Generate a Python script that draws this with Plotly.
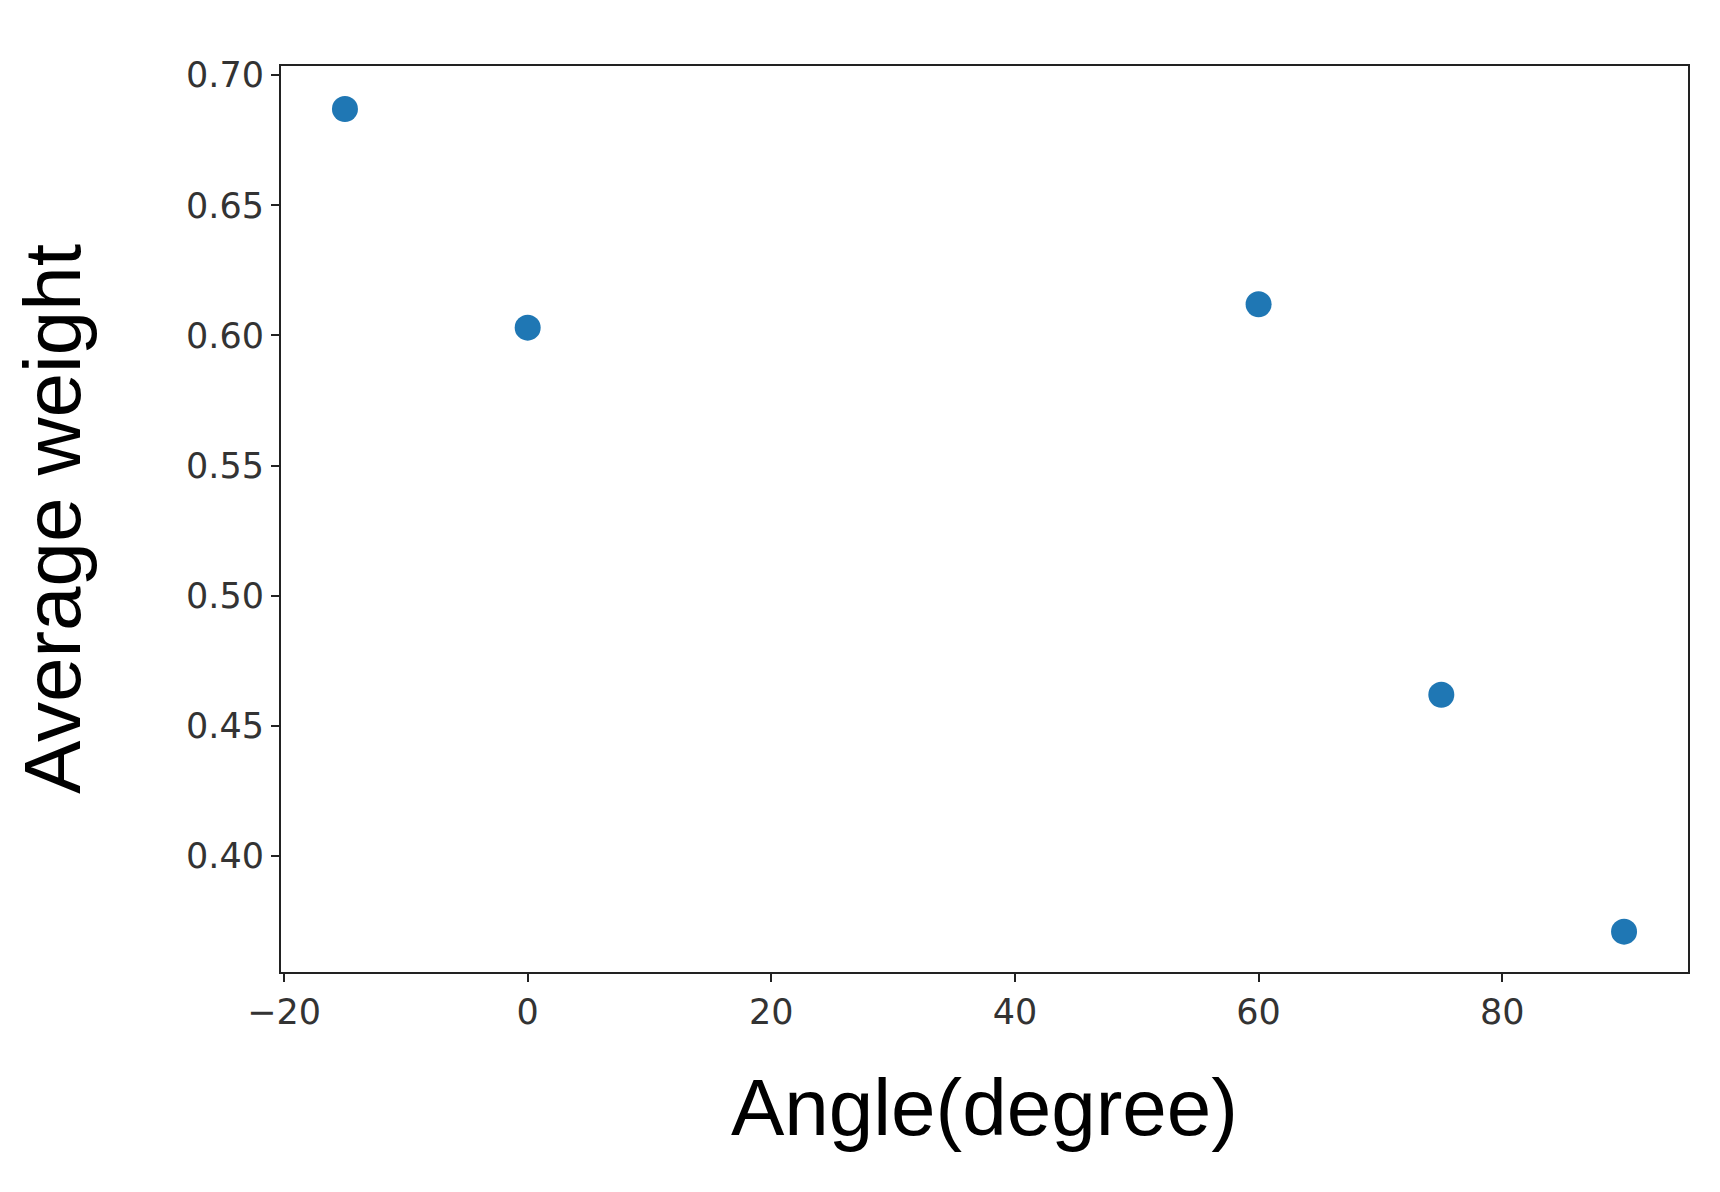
import plotly.graph_objects as go

angles = [-15, 0, 60, 75, 90]
weights = [0.687, 0.603, 0.612, 0.462, 0.371]
x_ticks = [-20, 0, 20, 40, 60, 80]
y_ticks = [0.40, 0.45, 0.50, 0.55, 0.60, 0.65, 0.70]

fig = go.Figure(go.Scatter(x=angles, y=weights, mode="markers",
                           marker=dict(color="#1f77b4", size=26)))
axis_common = dict(showline=True, linecolor="#222", linewidth=2, mirror=True,
                   ticks="outside", ticklen=8, tickwidth=2, tickcolor="#222",
                   showgrid=False, zeroline=False,
                   tickfont=dict(family="DejaVu Sans", size=35, color="#333"))
fig.update_xaxes(range=[-20.25, 95.25], tickvals=x_ticks,
                 ticktext=["−20", "0", "20", "40", "60", "80"],
                 title=dict(text="Angle(degree)", font=dict(family="Liberation Sans", size=80, color="#000"), standoff=48),
                 **axis_common)
fig.update_yaxes(range=[0.3555, 0.7035], tickvals=y_ticks, tickformat=".2f",
                 title=dict(text="Average weight", font=dict(family="Liberation Sans", size=80, color="#000"), standoff=80),
                 **axis_common)
fig.update_layout(width=1720, height=1192, plot_bgcolor="white", paper_bgcolor="white",
                  margin=dict(l=273, r=40, t=58, b=228), showlegend=False)
fig.write_html("out.html")
